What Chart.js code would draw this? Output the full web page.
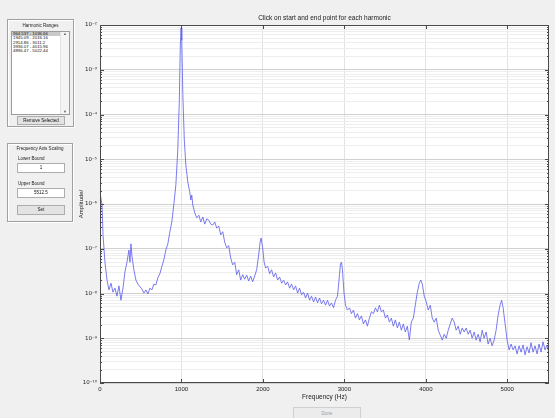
<!DOCTYPE html>
<html>
<head>
<meta charset="utf-8">
<script src="https://cdn.jsdelivr.net/npm/chart.js@4.4.0/dist/chart.umd.min.js"></script>
<style>
  body { margin: 0; background: #f0f0f0; font-family: "Liberation Sans", Arial, sans-serif; }
  #wrap { position: relative; width: 555px; height: 418px; overflow: hidden; background: #f0f0f0; }
  #spectrum { position: absolute; left: 0; top: 0; }
  .panel { position: absolute; border: 1px solid #a0a0a0; box-shadow: inset 1px 1px 0 #fff, 1px 1px 0 #fff; }
  .ptitle { position: absolute; left: 0; width: 100%; text-align: center; font-size: 4.5px; color: #222; }
  .list { position: absolute; background: #fff; border: 1px solid #9c9c9c; font-size: 4.3px; line-height: 4.3px; color: #111; }
  .list .item { padding-left: 1px; white-space: nowrap; width: 47px; }
  .list .sel { background: #c9c9c9; }
  .scroll { position: absolute; right: 0; top: 0; width: 8px; height: 100%; background: #f4f4f4; border-left: 1px solid #e2e2e2; }
  .scroll span { position: absolute; left: 0; width: 8px; text-align: center; font-size: 4px; color: #666; }
  .btn { position: absolute; background: #e3e3e3; border: 1px solid #adadad; font-size: 4.5px; text-align: center; color: #111; }
  .edit { position: absolute; background: #fff; border: 1px solid #abadb3; font-size: 4.5px; text-align: center; color: #111; }
  .lbl { position: absolute; font-size: 4.5px; color: #222; }
</style>
</head>
<body>
<div id="wrap">
  <canvas id="spectrum" width="555" height="418"></canvas>

  <div class="panel" style="left:7px; top:19px; width:65px; height:106px;">
    <div class="ptitle" style="top:3px;">Harmonic Ranges</div>
    <div class="list" style="left:3px; top:11px; width:57px; height:82px;">
      <div class="scroll"><span style="top:0;">▲</span><span style="bottom:0;">▼</span></div>
      <div class="item sel">964.537 - 1036.66</div>
      <div class="item">1945.09 - 2016.16</div>
      <div class="item">2914.86 - 3011.2</div>
      <div class="item">3936.07 - 4015.96</div>
      <div class="item">4896.47 - 5022.44</div>
    </div>
    <div class="btn" style="left:9px; top:96px; width:46px; height:7px; line-height:7px;">Remove Selected</div>
  </div>

  <div class="panel" style="left:7px; top:143px; width:64px; height:77px;">
    <div class="ptitle" style="top:2px;">Frequency Axis Scaling</div>
    <div class="lbl" style="left:10px; top:12px;">Lower Bound</div>
    <div class="edit" style="left:9px; top:19px; width:46px; height:8px; line-height:8px;">1</div>
    <div class="lbl" style="left:10px; top:37px;">Upper Bound</div>
    <div class="edit" style="left:9px; top:44px; width:46px; height:8px; line-height:8px;">5512.5</div>
    <div class="btn" style="left:9px; top:61px; width:46px; height:8px; line-height:8px;">Set</div>
  </div>

  <div class="btn" style="left:293px; top:407px; width:66px; height:14px; line-height:12px; background:#ececec; border-color:#d0d0d0; color:#9a9a9a;">Done</div>
</div>

<script>
  // spectrum: frequency (Hz) and amplitude as log10 exponent
  const freqHz = [
    5, 25, 37, 61, 86, 110, 135, 159, 184, 208,
    233, 257, 282, 306, 331, 355, 368, 380, 392, 416,
    441, 465, 490, 515, 539, 564, 588, 612, 637, 662,
    686, 710, 735, 760, 784, 808, 833, 857, 882, 906,
    931, 955, 974, 986, 995, 1004, 1017, 1035, 1054, 1078,
    1102, 1115, 1127, 1139, 1164, 1188, 1213, 1237, 1262, 1286,
    1311, 1335, 1360, 1384, 1409, 1433, 1458, 1482, 1507, 1531,
    1556, 1580, 1605, 1629, 1654, 1678, 1703, 1727, 1752, 1776,
    1801, 1825, 1850, 1874, 1899, 1923, 1948, 1966, 1978, 1997,
    2015, 2034, 2058, 2083, 2107, 2132, 2156, 2181, 2205, 2230,
    2254, 2279, 2303, 2328, 2352, 2377, 2401, 2426, 2450, 2475,
    2499, 2524, 2548, 2573, 2597, 2622, 2646, 2671, 2695, 2720,
    2744, 2769, 2793, 2818, 2842, 2867, 2891, 2916, 2940, 2952,
    2965, 2977, 2995, 3014, 3038, 3063, 3087, 3112, 3136, 3161,
    3185, 3210, 3234, 3259, 3283, 3308, 3332, 3357, 3381, 3406,
    3430, 3455, 3479, 3504, 3528, 3553, 3577, 3602, 3626, 3651,
    3675, 3700, 3724, 3749, 3773, 3798, 3822, 3847, 3871, 3896,
    3920, 3939, 3957, 3981, 4006, 4030, 4055, 4079, 4104, 4128,
    4153, 4177, 4202, 4226, 4251, 4275, 4300, 4324, 4349, 4373,
    4398, 4422, 4447, 4471, 4496, 4520, 4545, 4569, 4594, 4618,
    4643, 4667, 4692, 4716, 4741, 4765, 4790, 4814, 4839, 4863,
    4888, 4912, 4931, 4949, 4974, 4998, 5023, 5047, 5072, 5096,
    5121, 5145, 5170, 5194, 5219, 5243, 5268, 5292, 5317, 5341,
    5366, 5390, 5415, 5439, 5464, 5488, 5510
  ];
  const ampLog10 = [
    -5.80, -6.02, -6.69, -7.30, -7.70, -7.92, -7.77, -7.97, -7.88, -8.06,
    -7.83, -8.15, -7.88, -7.52, -7.30, -7.03, -7.30, -6.89, -7.16, -7.47,
    -7.70, -7.79, -7.85, -7.90, -7.99, -7.92, -8.01, -7.88, -7.92, -7.79,
    -7.81, -7.65, -7.56, -7.39, -7.25, -7.03, -6.89, -6.63, -6.40, -6.02,
    -5.58, -4.79, -3.68, -2.45, -2.07, -2.34, -3.56, -4.57, -5.13, -5.51,
    -5.73, -5.91, -5.80, -6.02, -6.20, -6.31, -6.25, -6.40, -6.29, -6.45,
    -6.33, -6.36, -6.45, -6.47, -6.40, -6.54, -6.49, -6.69, -6.62, -6.85,
    -6.98, -6.93, -7.21, -7.36, -7.30, -7.58, -7.47, -7.70, -7.58, -7.68,
    -7.59, -7.72, -7.61, -7.74, -7.61, -7.47, -7.14, -6.85, -6.76, -6.98,
    -7.30, -7.43, -7.39, -7.56, -7.47, -7.63, -7.54, -7.70, -7.63, -7.77,
    -7.70, -7.81, -7.74, -7.88, -7.79, -7.92, -7.83, -7.99, -7.88, -8.03,
    -7.97, -8.10, -7.99, -8.15, -8.06, -8.19, -8.08, -8.21, -8.10, -8.23,
    -8.15, -8.26, -8.15, -8.28, -8.21, -8.32, -8.15, -8.06, -7.59, -7.34,
    -7.30, -7.47, -7.97, -8.26, -8.37, -8.32, -8.45, -8.37, -8.55, -8.45,
    -8.59, -8.50, -8.68, -8.59, -8.73, -8.55, -8.41, -8.45, -8.32, -8.41,
    -8.26, -8.41, -8.37, -8.55, -8.48, -8.64, -8.55, -8.73, -8.59, -8.77,
    -8.64, -8.82, -8.68, -8.86, -8.73, -9.04, -8.64, -8.55, -8.26, -7.97,
    -7.77, -7.70, -7.79, -8.06, -8.19, -8.37, -8.26, -8.55, -8.64, -8.55,
    -8.82, -8.93, -9.04, -8.91, -9.00, -8.82, -8.68, -8.55, -8.64, -8.82,
    -8.73, -8.91, -8.77, -8.86, -8.77, -8.91, -8.82, -9.00, -8.86, -9.04,
    -8.91, -9.08, -8.82, -9.00, -8.86, -9.13, -9.00, -9.17, -9.04, -8.82,
    -8.48, -8.26, -8.15, -8.32, -8.68, -9.04, -9.26, -9.13, -9.26, -9.17,
    -9.35, -9.17, -9.31, -9.15, -9.37, -9.19, -9.33, -9.10, -9.31, -9.17,
    -9.35, -9.13, -9.31, -9.08, -9.26, -9.15, -9.31
  ];
  const xTicks = [0, 1000, 2000, 3000, 4000, 5000];
  const yDecades = [-10, -9, -8, -7, -6, -5, -4, -3, -2];

  const sup = { "-": "\u207B", "0": "\u2070", "1": "\u00B9", "2": "\u00B2", "3": "\u00B3",
    "4": "\u2074", "5": "\u2075", "6": "\u2076", "7": "\u2077", "8": "\u2078", "9": "\u2079" };
  const isDecade = v => Math.abs(Math.log10(v) - Math.round(Math.log10(v))) < 1e-6;

  // white axes background, dark box and inward MATLAB-style tick marks
  const axesBox = {
    id: "axesBox",
    beforeDraw(chart) {
      const { ctx, chartArea: a } = chart;
      ctx.save();
      ctx.fillStyle = "#ffffff";
      ctx.fillRect(a.left, a.top, a.right - a.left, a.bottom - a.top);
      ctx.restore();
    },
    afterDraw(chart) {
      const { ctx, chartArea: a, scales } = chart;
      ctx.save();
      ctx.strokeStyle = "#4a4a4a";
      ctx.lineWidth = 1;
      ctx.strokeRect(a.left + 0.5, a.top + 0.5, a.right - a.left - 1, a.bottom - a.top - 1);
      ctx.beginPath();
      scales.y.ticks.forEach(t => {
        const y = Math.round(scales.y.getPixelForValue(t.value)) + 0.5;
        const len = isDecade(t.value) ? 4 : 2;
        ctx.moveTo(a.left, y); ctx.lineTo(a.left + len, y);
        ctx.moveTo(a.right, y); ctx.lineTo(a.right - len, y);
      });
      scales.x.ticks.forEach(t => {
        const x = Math.round(scales.x.getPixelForValue(t.value)) + 0.5;
        ctx.moveTo(x, a.bottom); ctx.lineTo(x, a.bottom - 4);
        ctx.moveTo(x, a.top); ctx.lineTo(x, a.top + 4);
      });
      ctx.stroke();
      ctx.restore();
    }
  };

  const ctx = document.getElementById("spectrum").getContext("2d");
  new Chart(ctx, {
    type: "line",
    data: {
      datasets: [{
        data: freqHz.map((f, i) => ({ x: f, y: Math.pow(10, ampLog10[i]) })),
        borderColor: "rgba(100, 100, 235, 0.85)",
        borderWidth: 1,
        pointRadius: 0,
        tension: 0,
        fill: false
      }]
    },
    options: {
      responsive: false,
      animation: false,
      devicePixelRatio: 1,
      layout: { padding: { left: 74, right: 6, top: 0, bottom: 0 } },
      plugins: {
        legend: { display: false },
        tooltip: { enabled: false },
        title: {
          display: true,
          fullSize: false,
          text: "Click on start and end point for each harmonic",
          color: "#1a1a1a",
          font: { family: "Liberation Sans", size: 6.5, weight: "normal" },
          padding: { top: 14, bottom: 3.2 }
        }
      },
      scales: {
        x: {
          type: "linear",
          min: 0,
          max: 5512.5,
          afterBuildTicks: scale => { scale.ticks = xTicks.map(v => ({ value: v })); },
          afterFit: scale => { scale.height = 35; },
          ticks: {
            color: "#222",
            font: { family: "Liberation Sans", size: 6 },
            padding: 3,
            maxRotation: 0,
            autoSkip: false,
            callback: v => String(v)
          },
          grid: { color: "#e2e2e2", drawTicks: false },
          border: { display: false },
          title: {
            display: true,
            text: "Frequency (Hz)",
            color: "#1a1a1a",
            font: { family: "Liberation Sans", size: 6.5 },
            padding: { top: 0, bottom: 16.5 }
          }
        },
        y: {
          type: "logarithmic",
          min: Math.pow(10, yDecades[0]),
          max: Math.pow(10, yDecades[yDecades.length - 1]),
          afterBuildTicks: scale => {
            const ticks = [];
            yDecades.forEach((e, i) => {
              ticks.push({ value: Math.pow(10, e) });
              if (i < yDecades.length - 1) {
                for (let m = 2; m <= 9; m++) ticks.push({ value: m * Math.pow(10, e) });
              }
            });
            scale.ticks = ticks;
          },
          afterFit: scale => { scale.width = 26; },
          ticks: {
            autoSkip: false,
            padding: 3,
            color: "#222",
            font: { family: "DejaVu Sans", size: 5.5 },
            callback: v => {
              if (!isDecade(v)) return "";
              const e = String(Math.round(Math.log10(v)));
              return "10" + e.split("").map(c => sup[c]).join("");
            }
          },
          grid: {
            drawTicks: false,
            color: c => (c.tick && isDecade(c.tick.value)) ? "#d0d0d0" : "#eeeeee"
          },
          border: { display: false },
          title: {
            display: true,
            text: "Amplitude/",
            color: "#1a1a1a",
            font: { family: "Liberation Sans", size: 6 },
            padding: { top: 4, bottom: 0 }
          }
        }
      }
    },
    plugins: [axesBox]
  });
</script>
</body>
</html>
